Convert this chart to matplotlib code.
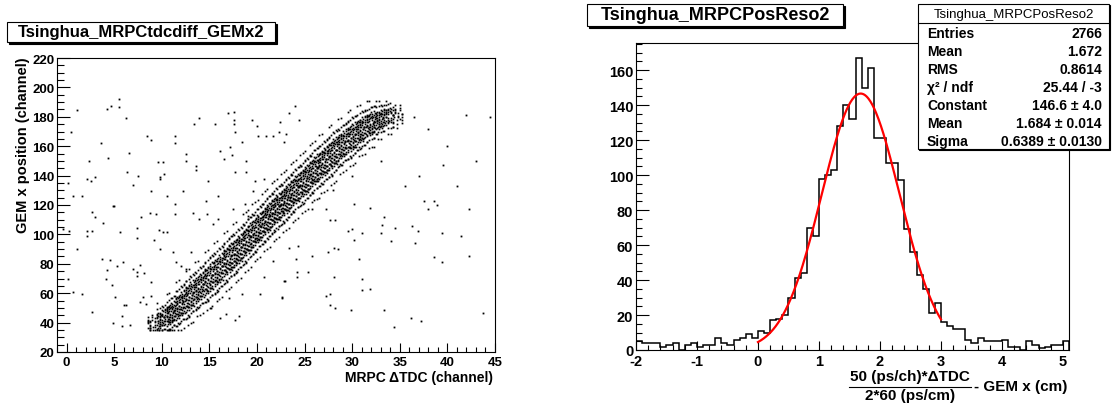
import numpy as np
import matplotlib
matplotlib.use("Agg")
import matplotlib.pyplot as plt
from matplotlib.patches import Rectangle
from matplotlib.lines import Line2D
from matplotlib.ticker import MultipleLocator

plt.rcParams["font.family"] = ["Liberation Sans", "DejaVu Sans"]
plt.rcParams["font.weight"] = "bold"
plt.rcParams["axes.unicode_minus"] = False

W, H = 1112, 406

# ---- left panel: MRPC dTDC vs GEM x (dense band read as columns + loose points)
band_x = [9, 10, 11, 12, 13, 14, 15, 16, 17, 18, 19, 20, 21, 22, 23, 24, 25, 26, 27,
          28, 29, 30, 31, 32, 33, 34, 35]
band_center = [40, 43, 47, 53, 59, 65, 71, 77, 84, 90, 97, 104, 111, 118, 124, 131, 137,
               144, 150, 156, 162, 167, 172, 176, 179, 181, 182]
band_half = [6, 9, 11, 13, 14, 14, 15, 15, 15, 15, 15, 15, 15, 15, 15, 15, 15, 15, 15,
             15, 14, 14, 13, 12, 10, 9, 7]
band_count = [25, 60, 85, 90, 90, 90, 90, 90, 95, 95, 100, 100, 105, 105, 105, 100, 100,
              100, 95, 95, 90, 90, 85, 80, 70, 45, 20]
gem_floor, gem_ceil = 35, 191

loose_x = [1.05, 0.42, 3.57, 2.38, 2.17, 2.52, 2.98, 0.18, 0.7, 1.58, 4.2, 4.62, 5.5, 5.5,
           6.2, 4.38, 6.58, 6.3, 7.46, 6.93, 4.9, 8.86, 8.5, 8.86, 9.56, 10.1, 9.8, 10.2,
           9.8, 10.5, 11.4, 11.4, 12.6, 12.5, 13.65, 13.65, 12.2, 13.4, 13.9, 15.6, 14.9,
           15.9, 17.0, 17.6, 17.6, 17.6, 17.7, 18.4, 17.2, 16.1, 16.5, 17.4, 17.7, 18.8,
           18.9, 19.6, 19.5, 20.0, 20.1, 21.0, 21.7, 22.3, 23.0, 22.8, 22.4, 23.4, 24.0,
           24.4, 20.7, 19.8,
           4.97, 2.7, 3.0, 3.78, -0.35, 0.28, 2.17, 2.17, 2.7, 5.6, 7.4, 7.4, 7.77, 8.8,
           9.35, 11.4, 11.4, 9.2, 9.7, 10.1, 10.5, 9.8, 1.12, 3.68, 4.55, 4.2, 5.9, 5.3,
           0.18, 4.13, 4.73, 0.7, 1.58, 5.1, 6.0, 6.2, 2.7, 5.8, 4.9, 5.8, 6.65, 7.0, 7.4,
           7.7, 8.1, 7.45, 8.9, 8.9, 7.7, 8.05, 8.3, 11.2, 11.55, 12.0, 12.6, 13.1, 13.3,
           13.9, 14.7, 14.8, 15.4, 15.9, 17.5, 18.7, 19.1, 15.2, 16.1, 16.8, 17.1, 17.7,
           18.1, 18.4, 20.3, 20.7, 21.7, 22.6, 22.9, 23.4, 24.1, 24.2, 24.3,
           30.2, 31.9, 37.5, 38.6, 38.9, 38.0, 42.3, 27.7, 28.2, 27.3, 25.8, 33.3, 33.1,
           34.5, 36.3, 36.9, 29.6, 30.0, 31.0, 33.0, 39.4, 41.4, 30.2, 34.1, 36.6, 27.5,
           28.1, 28.5, 25.8, 30.7, 38.6, 39.4, 42.3, 25.4, 28.1, 31.0, 31.0, 31.9, 27.2,
           27.7, 27.7, 28.2, 29.9, 33.3, 34.4, 36.2, 37.2, 43.7, 24.2, 22.8, 22.6,
           36.5, 38.0, 40.0, 42.0, 44.5, 39.5, 41.0, 35.5, 37.0, 30.0, 28.0, 33.0, 43.0,
           26.5]
loose_y = [184.8, 170, 162, 150, 138, 136.6, 139, 134.8, 126.4, 126.4, 185, 187.3, 192.3,
           186.6, 179.3, 151.8, 155.5, 142.7, 140, 133.9, 119.5, 129.8, 166.6, 164.5, 149,
           149, 138.9, 141, 137.7, 126.4, 167, 162, 154.8, 150, 146.8, 144, 129.8, 175.2,
           179.3, 175.2, 136.6, 126.4, 182.7, 183.6, 177.5, 175.2, 169.5, 162.7, 159.3,
           157, 151.4, 154, 142.5, 142.5, 150.2, 129.8, 177.5, 173.6, 166.6, 166.6, 166.6,
           169.5, 168, 162.7, 176.4, 182.7, 187.3, 177.5, 137.7, 136.6,
           119.5, 115.5, 111.6, 107.5, 103.6, 102.5, 102, 98.6, 102.5, 101.8, 104.3, 97.3,
           111.6, 114.5, 113.9, 120.7, 113.9, 96.4, 103, 101.8, 101.8, 90, 90, 83.6, 82.7,
           75.7, 81, 78.6, 70, 70, 65.5, 60.9, 59.3, 57.5, 51.8, 51.8, 47.3, 44.5, 40,
           37.7, 38.2, 76.4, 74.5, 79.3, 73.6, 71.8, 67.7, 58.2, 54, 57.5, 52.5, 87.7, 81,
           78.6, 76.8, 87.7, 114.5, 110.5, 123, 113.9, 107, 110.5, 117.3, 120.7, 112.7,
           50.2, 43.4, 45.7, 56.4, 41.8, 44.5, 59.3, 59.3, 70.7, 82, 57.7, 68.4, 90.5,
           83.6, 70.7, 92.3,
           120.7, 118, 123, 123, 120, 117.3, 117.3, 110, 110, 117.3, 117.3, 111.6, 106.4,
           104.3, 105.5, 102.5, 102.5, 103.6, 100.9, 100.9, 100.9, 99, 96.4, 95.5, 93.9,
           87.7, 90.5, 90, 85.5, 83.6, 84.8, 81, 85.5, 74.5, 70.7, 70, 62, 62.7, 58.2,
           59.3, 51.8, 50.2, 48.4, 48.4, 37.3, 43, 41.1, 46.4, 74.5, 68.4, 57,
           180, 172, 160, 181, 180, 147, 133, 133, 140, 140, 130, 150, 150, 125]

# ---- right panel: position resolution histogram
hist_lo, hist_hi, hist_width = -2.0, 5.1, 0.1
hist_counts = [5, 4, 4, 4, 2, 3, 4, 0, 3, 4, 2, 3, 3, 7, 4, 3, 6, 7, 9, 7,
               11, 10, 17, 18, 20, 30, 41, 44, 70, 65,
               98, 100, 103, 128, 140, 132, 167, 150, 161, 121,
               121, 107, 107, 97, 69, 56, 43, 35, 21, 27,
               16, 14, 12, 12, 6, 4, 7, 5, 5, 5,
               6, 2, 2, 0, 5, 3, 1, 2, 3, 3, 5]
fit_const, fit_mean, fit_sigma = 146.6, 1.684, 0.6389
fit_lo, fit_hi = 0.0, 3.0
stats_title = "Tsinghua_MRPCPosReso2"
stats_labels = ["Entries", "Mean", "RMS", "\u03c7\u00b2 / ndf", "Constant", "Mean", "Sigma"]
stats_values = ["2766", "1.672", "0.8614", "25.44 / -3", "146.6 \u00b1 4.0",
                "1.684 \u00b1 0.014", "0.6389 \u00b1 0.0130"]


def fx(px):
    return px / W


def fy(py):
    return 1 - py / H


def pave(fig, x0, y0, x1, y1, shadow=2):
    """ROOT-like box with a drop shadow, in pixel coords from the top left."""
    fig.patches.append(Rectangle((fx(x0 + shadow), fy(y1 + shadow)), (x1 - x0) / W,
                                 (y1 - y0) / H, transform=fig.transFigure,
                                 facecolor="black", edgecolor="black", lw=0.8, zorder=5))
    fig.patches.append(Rectangle((fx(x0), fy(y1)), (x1 - x0) / W, (y1 - y0) / H,
                                 transform=fig.transFigure, facecolor="white",
                                 edgecolor="black", lw=0.8, zorder=6))


def style_axes(ax, ymaj_len, xmaj_len, size):
    for s in ax.spines.values():
        s.set_linewidth(0.8)
    ax.tick_params(which="both", direction="in", top=False, right=False,
                   labelsize=size, width=0.8)
    ax.tick_params(axis="y", which="major", length=ymaj_len, pad=2)
    ax.tick_params(axis="y", which="minor", length=ymaj_len / 2)
    ax.tick_params(axis="x", which="major", length=xmaj_len, pad=3)
    ax.tick_params(axis="x", which="minor", length=xmaj_len / 2)
    for lbl in ax.get_xticklabels() + ax.get_yticklabels():
        lbl.set_fontweight("bold")


fig = plt.figure(figsize=(W / 100, H / 100), dpi=100)

# left panel
ax1 = fig.add_axes([fx(57), fy(353), (495 - 57) / W, (353 - 59) / H])
slopes = np.gradient(np.asarray(band_center, float), np.asarray(band_x, float))
# each column is spread over nested layers (share, reach in half-widths) so the band
# thins out towards its edges; positions inside a layer follow the R2 sequence
layers = [(0.45, 0.6), (0.35, 1.05), (0.20, 1.6)]
a1, a2 = 0.7548776662, 0.5698402910
bx, by = [], []
for xc, c, h, n, s in zip(band_x, band_center, band_half, band_count, slopes):
    for frac, reach in layers:
        m = max(1, int(round(frac * n)))
        for j in range(1, m + 1):
            dx = (0.5 + j * a1) % 1.0 - 0.5
            v = (0.5 + j * a2) % 1.0
            bx.append(xc + dx)
            by.append(c + s * dx + reach * h * (2 * v - 1))
by = np.clip(by, gem_floor, gem_ceil)
ax1.plot(bx, by, "s", ms=1.25, mew=0, color="black")
ax1.plot(loose_x, loose_y, "s", ms=1.3, mew=0, color="black")
ax1.set_xlim(-1, 45)
ax1.set_ylim(20, 220)
ax1.xaxis.set_major_locator(MultipleLocator(5))
ax1.xaxis.set_minor_locator(MultipleLocator(1))
ax1.yaxis.set_major_locator(MultipleLocator(20))
ax1.yaxis.set_minor_locator(MultipleLocator(5))
style_axes(ax1, 9.5, 6.5, 9.5)

pave(fig, 7, 23, 275, 43)
fig.text(fx(141), fy(33), "Tsinghua_MRPCtdcdiff_GEMx2", ha="center", va="center",
         fontsize=12, zorder=7)
fig.text(fx(23), fy(57), "GEM x position (channel)", rotation=90, ha="center", va="top",
         fontsize=10.5)
fig.text(fx(493), fy(378), "MRPC \u0394TDC (channel)", ha="right", va="center",
         fontsize=10)

# right panel
ax2 = fig.add_axes([fx(636), fy(351), (1069 - 636) / W, (351 - 44) / H])
edges = hist_lo + hist_width * np.arange(len(hist_counts) + 1)
ax2.stairs(hist_counts, edges, color="black", lw=1.1)
xf = np.linspace(fit_lo, fit_hi, 300)
ax2.plot(xf, fit_const * np.exp(-0.5 * ((xf - fit_mean) / fit_sigma) ** 2),
         color="#ff0000", lw=1.6)
ax2.set_xlim(hist_lo, hist_hi)
ax2.set_ylim(0, 175.5)
ax2.xaxis.set_major_locator(MultipleLocator(1))
ax2.xaxis.set_minor_locator(MultipleLocator(0.2))
ax2.yaxis.set_major_locator(MultipleLocator(20))
ax2.yaxis.set_minor_locator(MultipleLocator(5))
style_axes(ax2, 9, 6.5, 10.5)

pave(fig, 587, 5, 843, 27)
fig.text(fx(715), fy(16), "Tsinghua_MRPCPosReso2", ha="center", va="center",
         fontsize=13, zorder=7)

# x title as a fraction
fig.text(fx(910), fy(377), "50 (ps/ch)*\u0394TDC", ha="center", va="center", fontsize=11)
fig.text(fx(910), fy(396), "2*60 (ps/cm)", ha="center", va="center", fontsize=11)
fig.lines.append(Line2D([fx(849), fx(971)], [fy(387.5), fy(387.5)],
                        transform=fig.transFigure, color="black", lw=0.8))
fig.text(fx(974), fy(387), "- GEM x (cm)", ha="left", va="center", fontsize=11)

# stats box
pave(fig, 918, 5, 1109, 150, shadow=1)
fig.lines.append(Line2D([fx(918), fx(1109)], [fy(24), fy(24)], transform=fig.transFigure,
                        color="black", lw=0.8, zorder=7))
fig.text(fx(1014), fy(15), stats_title, ha="center", va="center", fontsize=9.5,
         fontweight="normal", zorder=7)
for i, (lab, val) in enumerate(zip(stats_labels, stats_values)):
    yy = 33.5 + 18.1 * i
    fig.text(fx(927), fy(yy), lab, ha="left", va="center", fontsize=10, zorder=7)
    fig.text(fx(1102), fy(yy), val, ha="right", va="center", fontsize=10, zorder=7)

fig.savefig("out.png", dpi=100)
